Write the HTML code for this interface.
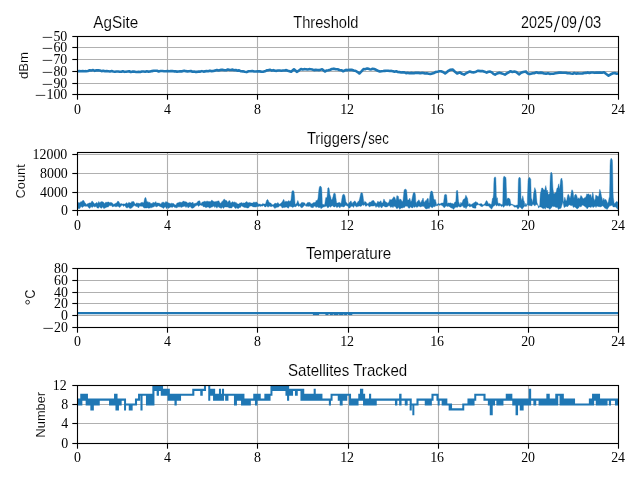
<!DOCTYPE html>
<html><head><meta charset="utf-8"><title>AgSite</title>
<style>
html,body{margin:0;padding:0;background:#fff;}
body{width:640px;height:480px;overflow:hidden;}
svg{display:block;will-change:transform;opacity:0.999;}
.t{font-family:"Liberation Sans",sans-serif;font-size:16.2px;fill:#000;stroke:#fff;stroke-width:0.12px;paint-order:fill stroke;}
.l{font-family:"Liberation Sans",sans-serif;font-size:13.6px;fill:#000;stroke:#fff;stroke-width:0.1px;paint-order:fill stroke;}
.k{font-family:"Liberation Serif",serif;font-size:14.4px;fill:#000;}
.g{stroke:#b0b0b0;stroke-width:1.11;}
.s{stroke:#000;stroke-width:1.11;fill:none;}
.d{stroke:#1f77b4;stroke-width:2.08;fill:none;stroke-linejoin:round;stroke-linecap:butt;}
</style></head><body>
<svg width="640" height="480" viewBox="0 0 640 480">
<rect width="640" height="480" fill="#fff"/>
<line class="g" x1="167.5" y1="36.5" x2="167.5" y2="94.5"/>
<line class="g" x1="257.5" y1="36.5" x2="257.5" y2="94.5"/>
<line class="g" x1="348.5" y1="36.5" x2="348.5" y2="94.5"/>
<line class="g" x1="438.5" y1="36.5" x2="438.5" y2="94.5"/>
<line class="g" x1="528.5" y1="36.5" x2="528.5" y2="94.5"/>
<line class="g" x1="77.5" y1="47.5" x2="618.5" y2="47.5"/>
<line class="g" x1="77.5" y1="59.5" x2="618.5" y2="59.5"/>
<line class="g" x1="77.5" y1="71.5" x2="618.5" y2="71.5"/>
<line class="g" x1="77.5" y1="83.5" x2="618.5" y2="83.5"/>
<clipPath id="c0"><rect x="77.5" y="36.5" width="541.0" height="58.0"/></clipPath>
<g clip-path="url(#c0)">
<polyline class="d" style="stroke-width:2.6" points="77.50,71.25 79.23,71.02 80.97,71.29 82.70,71.13 84.44,71.25 86.20,71.17 87.95,71.01 89.71,70.33 91.47,70.55 93.16,70.11 94.85,70.85 96.53,70.33 98.22,70.31 99.91,70.55 101.60,71.14 103.29,70.80 104.97,71.27 106.66,71.09 108.35,71.25 109.99,71.42 111.63,71.03 113.27,71.51 114.91,71.77 116.55,71.51 118.19,71.53 119.76,71.77 121.32,71.72 122.88,71.19 124.45,71.83 126.01,71.69 127.57,71.45 129.13,71.22 130.70,71.99 132.26,71.67 133.87,71.63 135.47,71.83 137.08,71.95 138.69,71.79 140.30,71.95 141.90,71.46 143.51,71.53 145.20,71.72 146.89,71.31 148.57,71.67 150.26,71.54 151.95,71.11 153.64,70.72 155.32,70.73 157.01,70.77 158.70,71.42 160.39,70.97 162.26,71.01 164.14,71.27 166.01,71.25 166.00,71.25 167.56,71.07 169.13,71.26 170.69,71.15 172.25,71.12 173.81,71.33 175.38,71.33 176.94,71.62 178.50,71.42 180.06,71.25 182.17,71.36 184.28,70.69 185.92,71.15 187.57,71.41 189.21,71.27 190.85,70.95 192.49,71.72 194.13,71.53 195.69,71.92 197.25,71.83 198.82,71.50 200.38,71.60 201.94,71.12 203.51,71.64 205.07,71.38 206.63,71.09 208.19,71.25 209.95,70.65 211.71,71.15 213.47,71.06 215.23,70.41 216.79,69.98 218.35,70.55 219.91,70.14 221.48,69.84 223.04,69.91 224.60,70.27 226.17,70.31 227.73,69.50 229.29,69.85 230.93,70.04 232.57,69.62 234.21,70.32 235.85,70.07 237.50,70.66 239.14,70.41 241.01,71.31 242.89,71.35 244.76,71.81 246.64,72.08 248.51,71.27 250.39,71.25 252.26,70.96 254.14,71.53 256.01,71.53 256.00,71.53 257.76,71.18 259.52,71.40 261.27,71.66 263.03,71.81 264.91,71.35 266.78,70.38 268.66,70.13 270.24,69.79 271.82,70.60 273.41,70.17 274.99,70.82 276.57,70.84 278.15,70.44 279.73,70.58 281.32,70.69 282.96,70.52 284.60,70.44 286.24,70.13 287.88,70.78 289.52,71.31 291.16,71.81 293.97,69.28 296.79,71.81 298.90,70.52 301.01,69.00 302.61,69.48 304.22,69.17 305.83,69.18 307.44,69.52 309.04,69.17 310.65,69.30 312.26,69.56 314.02,70.13 315.77,69.86 317.53,70.03 319.29,70.13 322.10,69.28 324.92,71.53 326.68,70.46 328.43,70.19 330.19,69.71 331.95,69.00 333.82,68.66 335.70,69.29 337.58,69.28 339.45,70.06 341.33,70.20 343.20,71.25 346.01,69.85 346.00,70.13 347.88,70.15 349.75,69.91 351.63,69.85 353.74,70.57 355.85,70.97 357.60,72.10 359.36,73.50 361.47,71.44 363.58,69.00 365.09,69.22 366.59,68.57 368.10,68.61 369.61,69.16 371.12,69.42 372.62,68.78 374.13,69.00 376.00,69.81 377.88,70.77 379.76,71.53 381.44,71.20 383.13,71.07 384.82,70.86 386.51,70.74 388.19,70.69 389.80,70.98 391.41,70.91 393.02,71.18 394.62,71.74 396.23,71.27 397.84,71.96 399.45,72.10 401.09,72.49 402.73,72.30 404.37,72.41 406.01,73.12 407.65,72.80 409.29,73.22 410.85,72.91 412.42,73.10 413.98,73.31 415.54,72.74 417.10,72.90 418.67,72.88 420.23,73.30 421.79,72.92 423.36,72.94 425.11,73.54 426.87,73.20 428.63,73.64 430.39,74.06 432.26,73.45 434.14,72.91 436.01,71.81 436.00,72.10 437.64,71.77 439.28,71.29 440.92,71.25 443.03,72.04 445.14,73.50 446.78,72.31 448.42,70.79 450.06,69.85 452.88,69.56 454.99,71.81 457.10,73.50 459.91,72.38 462.02,73.81 464.13,74.63 466.00,73.31 467.88,72.37 469.76,71.53 471.86,72.23 473.97,72.38 476.08,71.66 478.19,70.69 480.30,71.11 482.41,70.97 484.52,71.68 486.63,72.66 488.39,71.76 490.15,71.53 491.79,72.38 493.43,73.86 495.07,74.63 497.18,73.44 499.29,72.66 501.17,73.18 503.04,73.90 504.92,74.63 506.79,73.43 508.67,72.30 510.54,71.25 512.42,71.91 514.29,71.50 516.17,72.10 518.98,74.35 521.09,72.78 523.20,72.10 526.01,71.53 526.00,72.00 527.87,73.45 529.75,74.10 532.75,73.20 534.62,73.09 536.50,72.30 538.50,72.94 540.50,72.64 542.50,72.90 544.30,73.48 546.10,73.64 547.90,73.19 549.70,73.84 551.50,73.80 553.37,73.80 555.25,73.35 557.12,72.92 559.00,72.60 560.71,72.54 562.43,72.71 564.14,72.74 565.86,72.72 567.57,73.32 569.28,73.18 571.00,73.50 572.66,73.71 574.33,72.96 576.00,73.66 577.66,73.41 579.33,73.55 581.00,73.46 582.66,73.39 584.33,73.04 586.00,72.90 587.71,72.42 589.43,73.03 591.14,72.48 592.85,72.55 594.57,72.83 596.28,72.66 598.00,72.60 600.00,72.42 602.00,72.79 604.00,72.30 606.25,74.05 608.50,75.60 610.75,74.26 613.00,73.20 614.80,73.08 616.60,73.72 618.40,73.50"/>
</g>
<line class="s" x1="77.5" y1="94.5" x2="77.5" y2="99.7"/>
<text class="k" x="74.03" y="113.90" textLength="6.95" lengthAdjust="spacingAndGlyphs">0</text>
<line class="s" x1="167.5" y1="94.5" x2="167.5" y2="99.7"/>
<text class="k" x="164.03" y="113.90" textLength="6.95" lengthAdjust="spacingAndGlyphs">4</text>
<line class="s" x1="257.5" y1="94.5" x2="257.5" y2="99.7"/>
<text class="k" x="254.03" y="113.90" textLength="6.95" lengthAdjust="spacingAndGlyphs">8</text>
<line class="s" x1="348.5" y1="94.5" x2="348.5" y2="99.7"/>
<text class="k" x="340.15" y="113.90" textLength="13.90" lengthAdjust="spacingAndGlyphs">12</text>
<line class="s" x1="438.5" y1="94.5" x2="438.5" y2="99.7"/>
<text class="k" x="430.15" y="113.90" textLength="13.90" lengthAdjust="spacingAndGlyphs">16</text>
<line class="s" x1="528.5" y1="94.5" x2="528.5" y2="99.7"/>
<text class="k" x="521.15" y="113.90" textLength="13.90" lengthAdjust="spacingAndGlyphs">20</text>
<line class="s" x1="618.5" y1="94.5" x2="618.5" y2="99.7"/>
<text class="k" x="611.15" y="113.90" textLength="13.90" lengthAdjust="spacingAndGlyphs">24</text>
<line class="s" x1="72.3" y1="36.5" x2="77.5" y2="36.5"/>
<text class="k" x="53.40" y="41.10" textLength="13.90" lengthAdjust="spacingAndGlyphs">50</text>
<line x1="42.70" y1="37.40" x2="52.20" y2="37.40" stroke="#000" stroke-width="0.75"/>
<line class="s" x1="72.3" y1="47.5" x2="77.5" y2="47.5"/>
<text class="k" x="53.40" y="52.10" textLength="13.90" lengthAdjust="spacingAndGlyphs">60</text>
<line x1="42.70" y1="48.40" x2="52.20" y2="48.40" stroke="#000" stroke-width="0.75"/>
<line class="s" x1="72.3" y1="59.5" x2="77.5" y2="59.5"/>
<text class="k" x="53.40" y="64.10" textLength="13.90" lengthAdjust="spacingAndGlyphs">70</text>
<line x1="42.70" y1="60.40" x2="52.20" y2="60.40" stroke="#000" stroke-width="0.75"/>
<line class="s" x1="72.3" y1="71.5" x2="77.5" y2="71.5"/>
<text class="k" x="53.40" y="76.10" textLength="13.90" lengthAdjust="spacingAndGlyphs">80</text>
<line x1="42.70" y1="72.40" x2="52.20" y2="72.40" stroke="#000" stroke-width="0.75"/>
<line class="s" x1="72.3" y1="83.5" x2="77.5" y2="83.5"/>
<text class="k" x="53.40" y="88.10" textLength="13.90" lengthAdjust="spacingAndGlyphs">90</text>
<line x1="42.70" y1="84.40" x2="52.20" y2="84.40" stroke="#000" stroke-width="0.75"/>
<line class="s" x1="72.3" y1="94.5" x2="77.5" y2="94.5"/>
<text class="k" x="46.45" y="99.10" textLength="20.85" lengthAdjust="spacingAndGlyphs">100</text>
<line x1="35.75" y1="95.40" x2="45.25" y2="95.40" stroke="#000" stroke-width="0.75"/>
<rect class="s" x="77.5" y="36.5" width="541.0" height="58.0"/>
<line class="g" x1="167.5" y1="152.5" x2="167.5" y2="210.5"/>
<line class="g" x1="257.5" y1="152.5" x2="257.5" y2="210.5"/>
<line class="g" x1="348.5" y1="152.5" x2="348.5" y2="210.5"/>
<line class="g" x1="438.5" y1="152.5" x2="438.5" y2="210.5"/>
<line class="g" x1="528.5" y1="152.5" x2="528.5" y2="210.5"/>
<line class="g" x1="77.5" y1="154.5" x2="618.5" y2="154.5"/>
<line class="g" x1="77.5" y1="173.5" x2="618.5" y2="173.5"/>
<line class="g" x1="77.5" y1="192.5" x2="618.5" y2="192.5"/>
<clipPath id="c1"><rect x="77.5" y="152.5" width="541.0" height="58.0"/></clipPath>
<g clip-path="url(#c1)">
<polygon points="77.8,203.9 78.0,203.4 78.3,202.9 78.5,202.4 78.8,202.3 79.0,202.5 79.3,202.7 79.5,202.9 79.8,203.1 80.0,202.7 80.3,202.3 80.5,202.0 80.8,201.6 81.0,201.7 81.3,201.7 81.5,201.7 81.8,201.7 82.0,201.4 82.3,201.0 82.5,200.7 82.8,200.4 83.0,200.3 83.3,200.4 83.5,200.5 83.8,200.6 84.0,201.1 84.3,201.5 84.5,202.0 84.8,202.6 85.0,202.8 85.3,203.1 85.5,203.3 85.8,203.6 86.0,204.1 86.3,204.3 86.5,204.4 86.8,204.5 87.0,204.3 87.3,204.1 87.5,203.8 87.8,203.6 88.0,203.5 88.3,203.5 88.5,203.4 88.8,203.1 89.0,203.1 89.3,203.0 89.5,202.9 89.8,202.8 90.0,202.9 90.3,202.9 90.5,203.0 90.8,203.1 91.0,202.6 91.3,202.2 91.5,201.7 91.8,201.2 92.0,201.2 92.3,201.2 92.5,201.3 92.8,201.5 93.0,201.9 93.3,202.2 93.5,202.5 93.8,202.9 94.0,203.2 94.3,203.5 94.5,203.7 94.8,204.0 95.0,203.8 95.3,203.5 95.5,203.3 95.8,203.0 96.0,202.9 96.3,202.7 96.5,202.5 96.8,202.4 97.0,202.6 97.3,202.9 97.5,203.2 97.8,203.5 98.0,203.0 98.3,202.4 98.5,201.9 98.8,201.4 99.0,201.8 99.3,202.2 99.5,202.7 99.8,203.1 100.0,202.8 100.3,202.4 100.5,202.1 100.8,201.8 101.0,201.7 101.3,201.7 101.5,201.7 101.8,201.6 102.0,201.7 102.3,201.7 102.5,201.8 102.8,201.8 103.0,202.0 103.3,202.2 103.5,202.3 103.8,202.5 104.0,202.8 104.3,203.1 104.5,203.5 104.8,203.8 105.0,203.3 105.3,202.9 105.5,202.4 105.8,202.0 106.0,202.1 106.3,202.2 106.5,202.3 106.8,202.4 107.0,202.3 107.3,202.2 107.5,202.2 107.8,202.1 108.0,202.0 108.3,202.0 108.5,202.0 108.8,202.0 109.0,202.2 109.3,202.4 109.5,202.6 109.8,202.8 110.0,202.7 110.3,202.6 110.5,202.5 110.8,202.3 111.0,202.4 111.3,202.5 111.5,202.6 111.8,202.7 112.0,202.9 112.3,203.0 112.5,203.2 112.8,203.4 113.0,203.7 113.3,204.0 113.5,204.3 113.8,204.5 114.0,204.3 114.3,204.1 114.5,203.9 114.8,203.8 115.0,203.6 115.3,203.5 115.5,203.4 115.8,203.3 116.0,203.3 116.3,203.1 116.5,202.9 116.8,202.7 117.0,202.3 117.3,201.9 117.5,201.5 117.8,201.1 118.0,201.1 118.3,201.3 118.5,201.5 118.8,201.6 119.0,202.1 119.3,202.6 119.5,203.1 119.8,203.6 120.0,203.6 120.3,203.7 120.5,203.8 120.8,203.9 121.0,203.8 121.3,203.7 121.5,203.6 121.8,203.5 122.0,203.8 122.3,204.0 122.5,204.1 122.8,204.2 123.0,204.1 123.3,204.0 123.5,203.9 123.8,203.8 124.0,203.8 124.3,203.9 124.5,204.0 124.8,204.1 125.0,203.9 125.3,203.8 125.5,203.6 125.8,203.5 126.0,203.2 126.3,203.0 126.5,202.8 126.8,202.6 127.0,202.9 127.3,203.2 127.5,203.6 127.8,203.9 128.1,203.5 128.3,203.1 128.6,202.7 128.8,202.2 129.1,202.4 129.3,202.5 129.6,202.7 129.8,202.8 130.1,202.9 130.3,202.9 130.6,203.0 130.8,203.0 131.1,202.7 131.3,202.3 131.6,201.9 131.8,201.5 132.1,201.6 132.3,201.6 132.6,201.7 132.8,201.8 133.1,201.7 133.3,201.6 133.6,201.6 133.8,201.5 134.1,202.0 134.3,202.6 134.6,203.1 134.8,203.6 135.1,203.8 135.3,204.0 135.6,204.0 135.8,203.9 136.1,203.6 136.3,203.3 136.6,203.1 136.8,202.8 137.1,202.8 137.3,202.9 137.6,203.2 137.8,203.5 138.1,203.4 138.3,203.3 138.6,203.2 138.8,203.1 139.1,203.4 139.3,203.5 139.6,203.6 139.8,203.6 140.1,203.4 140.3,203.2 140.6,203.0 140.8,202.8 141.1,202.6 141.3,202.6 141.6,202.6 141.8,202.6 142.1,202.6 142.3,202.5 142.6,202.4 142.8,202.4 143.1,202.6 143.3,202.8 143.6,202.9 143.8,202.3 144.1,201.2 144.3,200.1 144.6,198.9 144.8,198.2 145.1,197.8 145.3,197.4 145.6,197.5 145.8,197.8 146.1,198.4 146.3,199.3 146.6,200.4 146.8,201.5 147.1,202.0 147.3,202.3 147.6,201.8 147.8,201.4 148.1,201.7 148.3,202.0 148.6,202.3 148.8,202.7 149.1,202.5 149.3,202.4 149.6,202.3 149.8,202.2 150.1,202.5 150.3,202.9 150.6,203.2 150.8,203.5 151.1,203.5 151.3,203.5 151.6,203.5 151.8,203.6 152.1,203.4 152.3,203.2 152.6,202.9 152.8,202.5 153.1,202.5 153.3,202.5 153.6,202.5 153.8,202.5 154.1,202.6 154.3,202.7 154.6,202.8 154.8,202.9 155.1,202.5 155.3,202.2 155.6,201.8 155.8,201.5 156.1,202.3 156.3,202.6 156.6,202.9 156.8,203.2 157.1,203.1 157.3,203.1 157.6,203.0 157.8,202.9 158.1,203.0 158.3,203.1 158.6,203.1 158.8,203.2 159.1,203.2 159.3,203.3 159.6,203.3 159.8,203.4 160.1,203.6 160.3,203.8 160.6,204.0 160.8,204.2 161.1,203.8 161.3,203.4 161.6,202.9 161.8,202.5 162.1,202.4 162.3,202.4 162.6,202.3 162.8,202.2 163.1,202.2 163.3,202.2 163.6,202.2 163.8,202.2 164.1,202.5 164.3,202.7 164.6,203.0 164.8,203.2 165.1,202.8 165.3,202.3 165.6,201.9 165.8,201.5 166.1,201.6 166.3,201.8 166.6,202.0 166.8,202.2 167.1,202.3 167.3,202.3 167.6,202.3 167.8,202.4 168.1,202.6 168.3,202.7 168.6,202.9 168.8,203.2 169.1,203.2 169.3,203.3 169.6,203.3 169.8,203.3 170.1,203.4 170.3,203.5 170.6,203.6 170.8,203.7 171.1,203.5 171.3,203.4 171.6,203.2 171.8,203.0 172.1,203.2 172.3,203.3 172.6,203.4 172.8,203.5 173.1,203.5 173.3,203.6 173.6,203.6 173.8,203.6 174.1,203.9 174.3,204.2 174.6,204.5 174.8,204.8 175.1,204.8 175.3,204.9 175.6,205.0 175.8,205.1 176.1,204.7 176.3,204.2 176.6,203.7 176.8,203.2 177.1,203.1 177.3,203.0 177.6,202.9 177.8,202.8 178.1,202.8 178.3,202.7 178.6,202.6 178.8,202.5 179.1,202.4 179.3,202.3 179.6,202.2 179.8,202.1 180.1,202.2 180.3,202.2 180.6,202.3 180.8,202.3 181.1,202.3 181.3,202.3 181.6,202.4 181.8,202.4 182.1,202.2 182.3,202.0 182.6,201.8 182.8,201.6 183.1,201.5 183.3,201.3 183.6,201.1 183.8,200.9 184.1,201.2 184.3,201.4 184.6,201.6 184.8,201.9 185.1,201.8 185.3,201.8 185.6,201.7 185.8,201.7 186.1,201.8 186.3,201.9 186.6,202.1 186.8,202.2 187.1,202.5 187.3,202.7 187.6,203.0 187.8,203.2 188.1,203.1 188.3,202.9 188.6,202.8 188.8,202.7 189.1,202.6 189.3,202.5 189.6,202.4 189.8,202.3 190.1,202.4 190.3,202.5 190.6,202.6 190.8,202.7 191.1,202.8 191.3,202.9 191.6,203.0 191.8,203.1 192.1,202.8 192.3,202.5 192.6,202.2 192.8,202.0 193.1,202.5 193.3,203.0 193.6,203.5 193.8,203.9 194.1,203.7 194.3,203.6 194.6,203.5 194.8,203.4 195.1,203.3 195.3,203.3 195.6,203.3 195.8,203.3 196.1,203.2 196.3,203.0 196.6,202.9 196.8,202.7 197.1,202.4 197.3,202.0 197.6,201.7 197.8,201.4 198.1,201.3 198.3,201.1 198.6,201.0 198.8,200.9 199.1,200.6 199.3,200.7 199.6,200.9 199.8,201.1 200.1,201.8 200.3,202.5 200.6,203.2 200.8,203.8 201.1,203.8 201.3,203.3 201.6,202.9 201.8,202.4 202.1,202.3 202.3,202.2 202.6,202.0 202.8,201.9 203.1,201.9 203.3,201.8 203.6,201.8 203.8,201.7 204.1,201.6 204.3,201.4 204.6,201.3 204.8,201.1 205.1,201.3 205.3,201.4 205.6,201.5 205.8,201.7 206.1,201.5 206.3,201.4 206.6,201.3 206.8,201.2 207.1,201.2 207.3,201.2 207.6,201.2 207.8,201.2 208.1,201.3 208.3,201.4 208.6,201.5 208.8,201.6 209.1,201.6 209.3,201.6 209.6,201.6 209.8,201.6 210.1,201.6 210.3,201.5 210.6,201.5 210.8,201.5 211.1,201.1 211.3,200.7 211.6,200.3 211.8,199.9 212.1,200.3 212.3,200.6 212.6,200.8 212.8,201.0 213.1,201.0 213.3,201.2 213.6,201.4 213.8,201.6 214.1,201.7 214.3,201.7 214.6,201.8 214.8,201.8 215.1,201.7 215.3,201.7 215.6,201.6 215.8,201.5 216.1,201.5 216.3,201.4 216.6,201.4 216.8,201.3 217.1,201.2 217.3,201.1 217.6,201.2 217.8,201.2 218.1,201.1 218.3,201.0 218.6,200.9 218.8,200.7 219.1,201.3 219.3,201.8 219.6,202.3 219.8,202.8 220.1,203.0 220.3,203.1 220.6,203.3 220.8,203.4 221.1,203.1 221.3,202.6 221.6,202.1 221.8,201.6 222.1,201.4 222.3,201.3 222.6,201.2 222.8,201.1 223.1,200.6 223.3,200.2 223.6,199.8 223.8,199.3 224.1,199.2 224.3,199.2 224.6,199.4 224.8,199.5 225.1,199.7 225.3,200.0 225.6,200.3 225.8,200.6 226.1,200.6 226.3,200.6 226.6,200.7 226.8,200.7 227.1,201.2 227.3,201.7 227.6,202.1 227.8,202.5 228.1,202.1 228.3,201.7 228.6,201.3 228.8,200.8 229.1,200.8 229.3,200.7 229.6,200.7 229.8,200.6 230.1,201.3 230.3,201.9 230.6,202.5 230.8,203.1 231.1,202.9 231.3,202.7 231.6,202.4 231.8,202.2 232.1,202.1 232.3,201.9 232.6,201.7 232.8,201.6 233.1,201.8 233.3,202.1 233.6,202.4 233.8,202.6 234.1,202.4 234.3,202.2 234.6,202.0 234.8,201.8 235.1,202.1 235.3,202.4 235.6,202.7 235.8,203.0 236.1,202.4 236.3,202.8 236.6,203.1 236.8,203.5 237.1,203.6 237.3,203.7 237.6,203.8 237.8,203.9 238.1,203.9 238.3,204.0 238.6,204.0 238.8,203.9 239.1,203.7 239.3,203.4 239.6,203.2 239.8,202.9 240.1,202.9 240.3,202.9 240.6,203.0 240.8,203.0 241.1,202.8 241.3,202.7 241.6,202.6 241.8,202.4 242.1,202.7 242.3,202.9 242.6,203.1 242.8,203.4 243.1,203.2 243.3,203.1 243.6,202.9 243.8,202.8 244.1,202.9 244.3,203.0 244.6,203.1 244.8,203.1 245.1,202.9 245.3,202.6 245.6,202.3 245.8,202.0 246.1,201.9 246.3,201.8 246.6,201.7 246.8,201.5 247.1,201.8 247.3,202.1 247.6,202.4 247.8,202.7 248.1,202.7 248.3,202.7 248.6,202.8 248.8,202.8 249.1,202.6 249.3,202.6 249.6,202.6 249.8,202.6 250.1,202.7 250.3,202.7 250.6,202.8 250.8,202.8 251.1,202.9 251.3,202.9 251.6,203.0 251.8,203.1 252.1,203.1 252.3,203.1 252.6,203.0 252.8,203.0 253.1,202.7 253.3,202.4 253.6,202.2 253.8,201.9 254.1,202.0 254.3,202.2 254.6,202.4 254.8,202.5 255.1,202.4 255.3,202.3 255.6,202.3 255.8,202.2 256.1,202.0 256.3,202.1 256.6,202.2 256.8,202.3 257.1,202.5 257.3,202.8 257.6,203.0 257.8,203.3 258.1,203.6 258.3,204.0 258.6,204.3 258.8,204.3 259.1,204.2 259.3,204.1 259.6,204.1 259.8,204.0 260.1,204.1 260.3,204.2 260.6,204.3 260.8,204.4 261.1,204.5 261.3,204.5 261.6,204.6 261.8,204.6 262.1,204.3 262.3,204.0 262.6,203.7 262.8,203.4 263.1,203.6 263.3,203.8 263.6,203.9 263.8,204.1 264.1,204.1 264.3,204.1 264.6,204.0 264.8,204.0 265.1,204.0 265.3,203.9 265.6,203.5 265.8,202.9 266.1,202.1 266.3,201.2 266.6,200.5 266.8,200.0 267.1,199.7 267.3,199.5 267.6,199.6 267.8,199.8 268.1,200.1 268.3,200.6 268.6,201.2 268.8,201.7 269.1,202.3 269.3,202.5 269.6,202.6 269.8,202.7 270.1,202.8 270.3,202.9 270.6,203.0 270.8,203.1 271.1,203.4 271.3,203.7 271.6,204.0 271.8,204.3 272.1,204.5 272.3,204.7 272.6,204.8 272.8,204.8 273.1,204.7 273.3,204.6 273.6,204.5 273.8,204.4 274.1,204.1 274.3,203.8 274.6,203.6 274.8,203.3 275.1,203.3 275.3,203.3 275.6,203.3 275.8,203.3 276.1,203.3 276.3,203.5 276.6,203.6 276.8,203.7 277.1,203.4 277.3,203.1 277.6,202.8 277.8,202.5 278.1,202.8 278.3,203.1 278.6,203.4 278.8,203.7 279.1,203.9 279.3,204.1 279.6,204.2 279.8,204.3 280.1,204.0 280.3,203.7 280.6,203.5 280.8,203.2 281.1,203.0 281.3,202.8 281.6,202.6 281.8,202.4 282.1,202.0 282.3,201.6 282.6,201.2 282.8,200.8 283.1,200.3 283.3,199.8 283.6,199.4 283.8,199.4 284.1,200.1 284.3,200.8 284.6,201.5 284.8,202.2 285.1,202.0 285.3,201.9 285.6,201.4 285.8,200.9 286.1,201.1 286.3,201.3 286.6,201.5 286.8,201.7 287.1,201.6 287.3,201.6 287.6,201.6 287.8,201.5 288.1,201.2 288.3,201.0 288.6,200.7 288.8,200.5 289.1,200.8 289.3,201.1 289.6,201.4 289.8,201.5 290.1,201.2 290.3,201.0 290.6,200.7 290.8,200.5 291.1,198.9 291.3,196.6 291.6,194.3 291.8,191.9 292.1,191.3 292.3,191.0 292.6,190.7 292.8,190.4 293.1,190.5 293.3,190.7 293.6,190.9 293.8,191.2 294.1,192.3 294.3,193.9 294.6,196.8 294.8,200.3 295.1,203.6 295.3,203.9 295.6,204.1 295.8,204.4 296.1,204.1 296.3,203.7 296.6,203.3 296.8,202.9 297.1,202.3 297.3,201.7 297.6,201.1 297.8,200.5 298.1,201.0 298.3,201.7 298.6,202.4 298.8,203.1 299.1,203.5 299.3,203.9 299.6,204.3 299.8,204.6 300.1,204.3 300.3,204.0 300.6,203.7 300.8,203.4 301.1,203.1 301.3,202.9 301.6,202.6 301.8,202.3 302.1,202.3 302.3,202.3 302.6,202.5 302.8,202.8 303.1,202.7 303.3,202.7 303.6,202.6 303.8,202.6 304.1,202.7 304.3,202.8 304.6,202.9 304.8,203.0 305.1,203.6 305.3,204.2 305.6,204.6 305.8,204.9 306.1,204.5 306.3,204.1 306.6,203.7 306.8,203.4 307.1,203.1 307.3,202.9 307.6,202.6 307.8,202.3 308.1,202.3 308.3,202.3 308.6,202.4 308.8,202.7 309.1,202.6 309.3,202.5 309.6,202.4 309.8,202.2 310.1,202.6 310.3,202.9 310.6,203.2 310.8,203.6 311.1,203.7 311.3,203.8 311.6,203.9 311.8,204.0 312.1,203.9 312.3,203.6 312.6,203.3 312.8,202.9 313.1,202.8 313.3,202.8 313.6,202.7 313.8,202.6 314.1,202.6 314.3,202.5 314.6,202.4 314.8,202.4 315.1,202.3 315.3,202.2 315.6,202.1 315.8,202.0 316.1,200.2 316.3,200.5 316.6,200.7 316.8,200.9 317.1,200.4 317.3,200.0 317.6,199.6 317.8,199.2 318.1,197.5 318.3,195.1 318.6,192.8 318.8,190.5 319.1,188.5 319.3,187.5 319.6,186.7 319.8,186.4 320.1,186.3 320.3,186.1 320.6,186.3 320.8,186.6 321.1,186.8 321.3,187.1 321.6,188.0 321.8,190.1 322.1,197.5 322.3,203.6 322.6,204.1 322.8,204.5 323.1,204.5 323.3,204.6 323.6,204.6 323.8,204.6 324.1,205.0 324.3,204.7 324.6,204.3 324.8,203.8 325.1,202.0 325.3,200.2 325.6,198.8 325.8,197.5 326.1,197.6 326.3,197.7 326.6,197.7 326.8,197.8 327.1,196.2 327.3,194.3 327.6,191.0 327.8,188.1 328.1,187.9 328.3,187.7 328.6,187.6 328.8,187.8 329.1,188.6 329.3,189.8 329.6,192.0 329.8,194.3 330.1,195.0 330.3,195.7 330.6,196.4 330.8,197.1 331.1,198.9 331.3,199.3 331.6,199.7 331.8,200.1 332.1,199.4 332.3,198.7 332.6,197.9 332.8,197.2 333.1,196.3 333.3,195.1 333.6,194.0 333.8,193.4 334.1,193.3 334.3,193.2 334.6,193.2 334.8,193.5 335.1,193.6 335.3,193.8 335.6,195.3 335.8,197.3 336.1,199.0 336.3,200.7 336.6,202.4 336.8,202.9 337.1,202.9 337.3,203.0 337.6,203.0 337.8,203.1 338.1,202.9 338.3,202.7 338.6,202.6 338.8,202.6 339.1,202.6 339.3,202.6 339.6,202.6 339.8,202.6 340.1,202.8 340.3,203.1 340.6,203.3 340.8,203.5 341.1,203.4 341.3,202.0 341.6,200.6 341.8,199.1 342.1,197.5 342.3,196.0 342.6,195.2 342.8,194.8 343.1,194.6 343.3,194.4 343.6,194.3 343.8,194.3 344.1,194.5 344.3,194.6 344.6,194.9 344.8,195.7 345.1,196.6 345.3,198.2 345.6,199.7 345.8,201.3 346.1,202.6 346.3,202.6 346.6,202.7 346.8,202.8 347.1,203.2 347.3,203.6 347.6,203.9 347.8,204.3 348.1,204.2 348.3,204.1 348.6,203.9 348.8,203.3 349.1,203.0 349.3,202.6 349.6,202.3 349.8,202.0 350.1,201.7 350.3,201.5 350.6,201.2 350.8,200.9 351.1,200.9 351.3,201.6 351.6,202.3 351.8,203.0 352.1,203.4 352.3,203.5 352.6,203.0 352.8,202.4 353.1,202.3 353.3,202.2 353.6,202.1 353.8,201.9 354.1,201.6 354.3,201.3 354.6,201.0 354.8,200.8 355.1,201.1 355.3,201.5 355.6,201.8 355.8,202.1 356.1,202.6 356.3,203.1 356.6,203.5 356.8,203.5 357.1,203.1 357.3,202.7 357.6,202.3 357.8,201.8 358.1,201.6 358.3,201.4 358.6,201.1 358.8,200.9 359.1,200.6 359.3,199.7 359.6,198.7 359.8,197.7 360.1,196.5 360.3,195.3 360.6,194.2 360.8,193.3 361.1,193.1 361.3,192.9 361.6,192.7 361.8,192.7 362.1,192.9 362.3,193.1 362.6,193.5 362.8,194.8 363.1,196.6 363.3,198.5 363.6,200.3 363.8,202.2 364.1,202.8 364.3,202.5 364.6,201.9 364.8,201.3 365.1,201.5 365.3,201.7 365.6,201.9 365.8,202.1 366.1,202.3 366.3,202.6 366.6,203.0 366.8,203.4 367.1,203.5 367.3,203.6 367.6,203.8 367.8,203.9 368.1,203.7 368.3,203.5 368.6,203.2 368.8,202.7 369.1,202.5 369.3,202.4 369.6,202.2 369.8,202.1 370.1,202.1 370.3,202.1 370.6,202.2 370.8,202.2 371.1,201.9 371.3,201.5 371.6,201.2 371.8,200.8 372.1,200.8 372.3,200.7 372.6,200.7 372.8,200.6 373.1,200.6 373.3,200.6 373.6,200.6 373.8,200.6 374.1,201.1 374.3,201.5 374.6,202.0 374.8,202.5 375.1,202.7 375.3,202.8 375.6,203.0 375.8,203.2 376.1,203.3 376.3,203.4 376.6,203.4 376.8,203.4 377.1,202.8 377.3,202.2 377.6,201.7 377.8,201.1 378.1,201.4 378.3,201.6 378.6,201.9 378.8,202.2 379.1,202.1 379.3,202.0 379.6,201.9 379.8,201.8 380.1,201.5 380.3,201.2 380.6,201.0 380.8,200.7 381.1,201.2 381.3,201.8 381.6,202.4 381.8,202.9 382.1,203.0 382.3,203.1 382.6,202.8 382.8,202.5 383.1,201.7 383.3,200.8 383.6,200.0 383.8,199.1 384.1,199.3 384.3,199.5 384.6,199.9 384.8,201.0 385.1,201.3 385.3,201.5 385.6,201.7 385.8,201.9 386.1,202.5 386.3,202.4 386.6,202.3 386.8,202.2 387.1,202.5 387.3,202.8 387.6,203.1 387.8,203.4 388.1,203.0 388.3,202.7 388.6,202.4 388.8,202.1 389.1,201.4 389.3,200.7 389.6,200.0 389.8,199.3 390.1,199.4 390.3,199.6 390.6,199.7 390.8,199.9 391.1,199.8 391.3,199.8 391.6,199.7 391.8,199.6 392.1,199.3 392.3,198.9 392.6,198.6 392.8,198.2 393.1,197.9 393.3,197.5 393.6,197.1 393.8,196.8 394.1,196.7 394.3,196.9 394.6,197.2 394.8,197.5 395.1,198.2 395.3,198.8 395.6,199.4 395.8,200.0 396.1,200.5 396.3,198.9 396.6,197.4 396.8,195.8 397.1,195.7 397.3,195.6 397.6,196.1 397.8,196.5 398.1,196.2 398.3,196.3 398.6,197.7 398.8,199.2 399.1,200.3 399.3,200.2 399.6,199.6 399.8,198.9 400.1,199.1 400.3,199.2 400.6,199.3 400.8,199.5 401.1,199.6 401.3,200.1 401.6,200.7 401.8,201.2 402.1,201.2 402.3,201.3 402.6,201.4 402.8,201.5 403.1,199.7 403.3,197.3 403.6,194.9 403.8,192.4 404.1,190.5 404.3,189.7 404.6,189.5 404.8,189.4 405.1,189.3 405.3,189.2 405.6,189.2 405.8,189.3 406.1,189.4 406.3,189.7 406.6,190.1 406.8,192.3 407.1,195.3 407.3,198.2 407.6,200.5 407.8,200.1 408.1,200.1 408.3,200.0 408.6,199.9 408.8,199.8 409.1,199.4 409.3,198.9 409.6,198.5 409.8,198.1 410.1,199.0 410.3,199.9 410.6,200.8 410.8,201.8 411.1,201.5 411.3,201.1 411.6,200.8 411.8,199.6 412.1,198.4 412.3,197.3 412.6,196.1 412.8,194.9 413.1,193.9 413.3,193.0 413.6,192.8 413.8,192.5 414.1,192.3 414.3,192.4 414.6,192.7 414.8,192.9 415.1,193.6 415.3,194.3 415.6,197.4 415.8,201.4 416.1,203.7 416.3,203.1 416.6,202.5 416.8,201.9 417.1,201.7 417.3,201.5 417.6,201.3 417.8,201.1 418.1,201.0 418.3,200.6 418.6,200.2 418.8,199.8 419.1,199.9 419.3,200.4 419.6,201.0 419.8,201.6 420.1,202.3 420.3,202.4 420.6,202.4 420.8,202.4 421.1,201.9 421.3,201.4 421.6,200.9 421.8,200.4 422.1,200.3 422.3,200.1 422.6,199.2 422.8,198.4 423.1,198.0 423.3,198.8 423.6,200.2 423.8,201.5 424.1,202.2 424.3,202.2 424.6,202.0 424.8,201.7 425.1,201.4 425.3,201.0 425.6,200.7 425.8,200.4 426.1,200.8 426.3,200.4 426.6,200.0 426.8,199.5 427.1,199.0 427.3,198.7 427.6,198.5 427.8,198.3 428.1,198.4 428.3,198.8 428.6,200.7 428.8,202.5 429.1,203.2 429.3,201.6 429.6,199.0 429.8,196.3 430.1,194.7 430.3,193.0 430.6,192.1 430.8,191.6 431.1,191.3 431.3,191.1 431.6,190.9 431.8,190.9 432.1,191.2 432.3,191.4 432.6,192.1 432.8,193.0 433.1,194.4 433.3,195.8 433.6,197.3 433.8,198.7 434.1,199.7 434.3,199.8 434.6,199.6 434.8,199.4 435.1,199.5 435.3,199.6 435.6,200.4 435.8,201.5 436.1,202.5 436.3,203.5 436.6,204.6 436.8,204.9 437.1,204.6 437.3,204.3 437.6,204.0 437.8,203.7 438.1,203.6 438.3,203.5 438.6,203.5 438.8,203.4 439.1,203.6 439.3,203.8 439.6,204.0 439.8,204.1 440.1,204.0 440.3,203.8 440.6,203.6 440.8,203.4 441.1,203.3 441.3,203.2 441.6,203.1 441.8,203.0 442.1,203.0 442.3,203.0 442.6,203.0 442.8,202.9 443.1,202.9 443.3,202.8 443.6,202.3 443.8,200.2 444.1,198.2 444.3,196.3 444.6,194.8 444.8,194.7 445.1,194.5 445.3,194.4 445.6,194.3 445.8,194.5 446.1,194.6 446.3,194.7 446.6,194.9 446.8,197.0 447.1,200.3 447.3,202.9 447.6,203.2 447.8,203.4 448.1,203.3 448.3,203.1 448.6,202.9 448.8,202.7 449.1,202.9 449.3,203.0 449.6,203.1 449.8,203.3 450.1,203.2 450.3,203.1 450.6,202.9 450.8,202.8 451.1,203.0 451.3,203.2 451.6,203.4 451.8,203.6 452.1,203.6 452.3,203.5 452.6,203.5 452.8,203.5 453.1,203.7 453.3,203.9 453.6,204.1 453.8,203.8 454.1,203.4 454.3,202.9 454.6,202.5 454.8,202.0 455.1,202.0 455.3,202.0 455.6,202.0 455.8,201.0 456.1,195.8 456.3,191.6 456.6,191.0 456.8,190.4 457.1,190.1 457.3,190.4 457.6,190.8 457.8,191.8 458.1,195.3 458.3,198.8 458.6,201.7 458.8,202.2 459.1,202.8 459.3,203.5 459.6,204.1 459.8,204.8 460.1,204.4 460.3,204.0 460.6,203.3 460.8,202.3 461.1,202.6 461.3,202.9 461.6,203.1 461.8,203.4 462.1,202.7 462.3,202.0 462.6,201.2 462.8,200.4 463.1,200.0 463.3,199.6 463.6,199.3 463.8,198.9 464.1,198.7 464.3,198.8 464.6,198.8 464.8,198.9 465.1,198.0 465.3,197.0 465.6,196.1 465.8,195.2 466.1,195.4 466.3,195.9 466.6,196.5 466.8,197.1 467.1,197.5 467.3,197.9 467.6,198.6 467.8,200.5 468.1,202.0 468.3,203.5 468.6,204.6 468.8,204.5 469.1,204.2 469.3,204.0 469.6,203.7 469.8,203.5 470.1,203.8 470.3,204.1 470.6,204.4 470.8,204.7 471.1,204.7 471.3,204.5 471.6,204.3 471.8,204.2 472.1,204.0 472.3,203.9 472.6,203.8 472.8,203.6 473.1,203.4 473.3,203.2 473.6,203.0 473.8,202.8 474.1,202.7 474.3,202.6 474.6,202.5 474.8,202.4 475.1,202.1 475.3,201.9 475.6,201.7 475.8,201.4 476.1,201.9 476.3,202.1 476.6,202.3 476.8,202.4 477.1,202.5 477.3,202.6 477.6,202.7 477.8,202.8 478.1,203.3 478.3,203.7 478.6,204.1 478.8,204.5 479.1,204.3 479.3,204.1 479.6,203.9 479.8,203.7 480.1,203.7 480.3,203.7 480.6,203.7 480.8,203.7 481.1,203.7 481.3,203.7 481.6,203.7 481.8,203.7 482.1,204.1 482.3,204.5 482.6,204.7 482.8,205.0 483.1,204.9 483.3,204.8 483.6,204.6 483.8,204.5 484.1,204.3 484.3,204.1 484.6,203.9 484.8,203.6 485.1,203.1 485.3,202.6 485.6,202.1 485.8,201.5 486.1,201.2 486.3,200.8 486.6,200.5 486.8,200.7 487.1,201.1 487.3,201.5 487.6,202.0 487.8,202.4 488.1,202.9 488.3,203.4 488.6,203.8 488.8,204.0 489.1,203.9 489.3,203.8 489.6,203.7 489.8,203.6 490.1,203.8 490.3,204.0 490.6,204.2 490.8,204.4 491.1,204.3 491.3,204.3 491.6,204.3 491.8,202.2 492.1,200.7 492.3,199.2 492.6,198.2 492.8,199.3 493.1,197.6 493.3,196.0 493.6,193.0 493.8,184.2 494.1,178.1 494.3,177.7 494.6,177.4 494.8,177.0 495.1,176.8 495.3,177.1 495.6,177.5 495.8,177.8 496.1,186.3 496.3,195.7 496.6,197.4 496.8,199.1 497.1,198.1 497.3,197.7 497.6,199.9 497.8,202.0 498.1,203.2 498.3,203.3 498.6,203.4 498.8,203.5 499.1,203.5 499.3,203.4 499.6,203.3 499.8,203.2 500.1,203.5 500.3,203.8 500.6,204.1 500.8,204.4 501.1,204.5 501.3,204.5 501.6,204.4 501.8,204.4 502.1,204.4 502.3,204.5 502.6,204.5 502.8,201.1 503.1,183.8 503.3,178.1 503.6,177.3 503.8,176.6 504.1,176.2 504.3,176.2 504.6,176.5 504.8,176.7 505.1,176.9 505.3,177.0 505.6,177.2 505.8,177.4 506.1,179.2 506.3,186.5 506.6,193.8 506.8,199.7 507.1,199.3 507.3,198.8 507.6,198.4 507.8,198.0 508.1,198.1 508.3,198.1 508.6,198.1 508.8,198.3 509.1,198.5 509.3,198.7 509.6,198.8 509.8,199.0 510.1,199.7 510.3,201.1 510.6,202.6 510.8,203.7 511.1,203.9 511.3,204.0 511.6,204.2 511.8,204.4 512.0,204.4 512.3,204.4 512.5,204.4 512.8,204.4 513.0,204.6 513.3,204.8 513.5,205.0 513.8,205.2 514.0,205.3 514.3,205.3 514.5,205.3 514.8,205.3 515.0,205.3 515.3,205.4 515.5,205.4 515.8,205.5 516.0,205.4 516.3,205.3 516.5,205.2 516.8,205.1 517.0,205.1 517.3,205.1 517.5,205.0 517.8,205.0 518.0,195.9 518.3,182.9 518.5,178.7 518.8,178.2 519.0,177.8 519.3,177.3 519.5,177.1 519.8,177.4 520.0,177.7 520.3,178.1 520.5,178.5 520.8,187.0 521.0,197.8 521.3,198.7 521.5,199.6 521.8,200.6 522.0,199.4 522.3,198.1 522.5,196.9 522.8,195.7 523.0,196.8 523.3,198.1 523.5,199.4 523.8,200.7 524.0,201.2 524.3,201.6 524.5,202.5 524.8,204.9 525.0,206.1 525.3,205.1 525.5,204.2 525.8,203.2 526.0,204.1 526.3,204.9 526.5,205.8 526.8,206.6 527.0,205.5 527.3,203.1 527.5,195.5 527.8,188.0 528.0,181.4 528.3,179.1 528.5,178.6 528.8,178.2 529.0,177.8 529.3,177.4 529.5,177.2 529.8,177.6 530.0,178.0 530.3,178.4 530.5,178.8 530.8,179.3 531.0,188.2 531.3,198.3 531.5,198.6 531.8,198.9 532.0,199.8 532.3,200.7 532.5,201.7 532.8,202.6 533.0,200.1 533.3,196.6 533.5,193.6 533.8,193.0 534.0,191.6 534.3,190.2 534.5,188.8 534.8,187.6 535.0,188.3 535.3,188.9 535.5,189.5 535.8,190.1 536.0,191.8 536.3,194.7 536.5,197.6 536.8,200.5 537.0,202.6 537.3,203.3 537.5,204.0 537.8,204.8 538.0,205.9 538.3,207.0 538.5,207.9 538.8,208.1 539.0,207.3 539.3,206.6 539.5,205.8 539.8,204.1 540.0,199.1 540.3,194.1 540.5,192.4 540.8,192.2 541.0,191.0 541.3,189.8 541.5,188.6 541.8,187.9 542.0,188.0 542.3,188.0 542.5,188.1 542.8,188.1 543.0,188.7 543.3,189.3 543.5,189.5 543.8,189.7 544.0,190.1 544.3,190.1 544.5,189.9 544.8,189.7 545.0,188.6 545.3,187.5 545.5,186.5 545.8,185.6 546.0,186.7 546.3,188.1 546.5,189.5 546.8,190.9 547.0,190.4 547.3,190.1 547.5,191.0 547.8,191.9 548.0,193.4 548.3,194.6 548.5,194.5 548.8,194.5 549.0,194.3 549.3,194.0 549.5,193.8 549.8,192.1 550.0,183.3 550.3,175.9 550.5,174.4 550.8,172.9 551.0,172.4 551.3,172.1 551.5,172.6 551.8,173.0 552.0,173.4 552.3,174.7 552.5,180.3 552.8,186.0 553.0,189.2 553.3,190.7 553.5,192.2 553.8,193.7 554.0,193.6 554.3,193.5 554.5,193.4 554.8,193.4 555.0,193.2 555.3,193.0 555.5,192.7 555.8,192.5 556.0,192.5 556.3,191.3 556.5,190.2 556.8,189.0 557.0,188.1 557.3,188.1 557.5,188.0 557.8,188.0 558.0,186.5 558.3,185.2 558.5,184.5 558.8,183.8 559.0,185.5 559.3,187.2 559.5,188.6 559.8,188.4 560.0,185.7 560.3,183.0 560.5,181.0 560.8,179.3 561.0,178.9 561.3,178.4 561.5,178.0 561.8,178.3 562.0,179.4 562.3,180.5 562.5,181.6 562.8,187.1 563.0,194.8 563.3,201.1 563.5,201.5 563.8,202.0 564.0,200.7 564.3,199.5 564.5,198.3 564.8,197.2 565.0,198.0 565.3,198.8 565.5,199.6 565.8,200.4 566.0,200.9 566.3,201.1 566.5,200.5 566.8,199.9 567.0,198.3 567.3,196.8 567.5,195.8 567.8,194.8 568.0,194.4 568.3,194.2 568.5,194.6 568.8,195.0 569.0,195.6 569.3,196.3 569.5,197.0 569.8,197.8 570.0,198.4 570.3,197.5 570.5,196.6 570.8,195.7 571.0,193.7 571.3,192.4 571.5,191.1 571.8,189.9 572.0,189.7 572.3,190.0 572.5,190.4 572.8,190.7 573.0,191.9 573.3,193.3 573.5,195.4 573.8,197.4 574.0,197.8 574.3,197.2 574.5,196.1 574.8,194.9 575.0,194.8 575.3,194.6 575.5,194.5 575.8,194.3 576.0,194.3 576.3,194.8 576.5,195.2 576.8,195.7 577.0,196.6 577.3,197.5 577.5,198.4 577.8,199.2 578.0,198.8 578.3,198.5 578.5,198.1 578.8,197.7 579.0,198.2 579.3,198.5 579.5,198.7 579.8,198.9 580.0,198.1 580.3,197.3 580.5,196.4 580.8,195.6 581.0,195.6 581.3,195.8 581.5,196.1 581.8,196.4 582.0,196.9 582.3,197.4 582.5,197.8 582.8,198.3 583.0,198.6 583.3,198.6 583.5,198.7 583.8,198.7 584.0,198.4 584.3,198.1 584.5,197.8 584.8,197.6 585.0,197.5 585.3,197.4 585.5,197.3 585.8,197.2 586.0,196.5 586.3,195.7 586.5,194.8 586.8,193.8 587.0,193.9 587.3,194.0 587.5,194.3 587.8,194.5 588.0,194.2 588.3,193.9 588.5,193.7 588.8,193.9 589.0,194.3 589.3,194.6 589.5,195.0 589.8,195.3 590.0,195.1 590.3,194.9 590.5,194.6 590.8,194.4 591.0,195.9 591.3,196.7 591.5,197.5 591.8,198.2 592.0,196.5 592.3,194.8 592.5,193.5 592.8,192.1 593.0,193.2 593.3,194.5 593.5,196.5 593.8,198.4 594.0,199.0 594.3,199.6 594.5,200.1 594.8,200.7 595.0,199.8 595.3,198.8 595.5,197.0 595.8,194.9 596.0,195.1 596.3,195.4 596.5,195.6 596.8,195.9 597.0,195.8 597.3,195.9 597.5,196.2 597.8,196.5 598.0,196.5 598.3,196.4 598.5,196.3 598.8,196.2 599.0,194.4 599.3,192.7 599.5,190.9 599.8,189.3 600.0,190.0 600.3,190.7 600.5,191.3 600.8,192.3 601.0,193.7 601.3,195.1 601.5,196.5 601.8,196.9 602.0,197.9 602.3,198.9 602.5,199.9 602.8,200.9 603.0,200.2 603.3,199.5 603.5,198.8 603.8,198.1 604.0,198.7 604.3,199.2 604.5,199.7 604.8,200.2 605.0,200.0 605.3,199.8 605.5,199.5 605.8,199.3 606.0,199.8 606.3,200.3 606.5,200.8 606.8,201.3 607.0,201.9 607.3,202.4 607.5,202.9 607.8,203.5 608.0,202.8 608.3,202.1 608.5,201.2 608.8,199.3 609.0,198.3 609.3,197.2 609.5,196.2 609.8,183.6 610.0,166.1 610.3,160.4 610.5,159.7 610.8,159.1 611.0,158.5 611.3,158.2 611.5,158.6 611.8,159.1 612.0,159.5 612.3,159.9 612.5,163.1 612.8,177.3 613.0,191.8 613.3,197.3 613.5,199.0 613.8,200.7 614.0,202.4 614.3,203.1 614.5,203.5 614.8,203.8 615.0,203.4 615.3,203.0 615.5,202.6 615.8,202.2 616.0,201.9 616.3,201.7 616.5,201.5 616.8,201.4 617.0,201.5 617.3,201.7 617.5,201.9 617.8,202.0 617.9,209.5 616.6,208.1 615.4,206.7 614.1,207.0 613.1,206.9 612.0,205.0 611.0,205.8 609.8,205.8 608.5,207.4 607.2,209.5 606.0,208.6 604.8,208.2 603.5,206.4 602.2,205.8 601.0,207.0 600.0,206.7 599.0,206.7 598.0,206.4 597.0,205.9 596.0,207.6 595.0,206.0 594.0,207.0 593.0,207.6 592.0,206.3 591.0,207.6 589.8,206.9 588.5,207.1 587.2,208.9 586.0,207.3 584.8,206.4 583.5,205.5 582.2,205.0 581.0,207.0 579.8,206.3 578.5,207.9 577.2,208.9 576.0,208.0 574.8,206.8 573.5,207.6 572.2,205.3 571.0,205.8 569.8,204.7 568.5,205.6 567.2,207.0 566.2,205.9 565.2,207.0 564.1,207.6 562.9,202.0 561.0,208.2 559.8,208.4 558.5,209.5 557.2,206.9 556.0,207.7 554.8,206.4 553.7,206.7 552.7,206.0 551.6,207.6 549.8,209.5 548.5,207.9 547.2,207.9 546.0,207.0 545.4,209.2 544.3,207.9 543.3,208.7 542.2,208.0 541.0,206.9 539.8,207.1 538.5,206.1 537.2,204.7 536.0,204.6 534.8,206.1 533.8,204.8 532.8,204.2 531.8,206.0 530.8,205.7 529.8,205.5 528.8,205.6 527.8,205.0 526.8,204.3 525.8,206.4 524.8,206.1 523.5,207.3 522.2,209.2 521.0,208.0 519.8,206.8 517.9,209.2 516.8,207.2 515.7,207.0 514.6,207.3 513.5,206.1 512.5,205.2 511.4,205.0 510.4,205.6 509.3,206.3 508.3,204.7 507.2,206.1 506.0,205.3 504.8,205.7 503.5,207.4 502.5,205.8 501.5,206.7 500.5,205.6 499.5,205.8 498.5,206.1 497.5,205.0 496.5,206.2 495.5,204.6 494.5,205.8 493.5,206.1 491.6,209.2 490.6,208.3 489.5,207.0 488.5,206.1 487.5,205.9 486.4,205.9 485.4,205.6 484.3,205.3 483.3,205.8 482.2,206.8 481.2,206.4 480.2,205.8 479.1,204.8 478.1,204.7 477.0,205.0 476.0,206.1 476.0,208.1 475.0,208.3 473.9,207.9 472.9,207.9 471.8,206.2 470.8,206.5 469.8,206.9 468.5,205.8 467.2,206.5 466.0,208.8 465.0,207.1 464.0,207.9 463.0,206.3 462.0,205.6 461.0,206.9 459.8,207.0 458.5,206.3 457.2,207.5 456.0,207.0 454.8,207.7 453.5,209.4 452.5,208.3 451.5,208.0 450.5,207.5 449.5,206.7 448.5,206.2 447.2,206.6 446.0,205.7 444.8,207.5 443.8,207.4 442.8,206.0 441.8,205.5 440.8,204.8 439.8,205.6 438.5,204.7 437.2,205.9 436.0,205.6 434.8,206.8 433.5,206.5 432.2,208.1 431.2,206.9 430.2,206.6 429.1,208.7 428.1,208.1 427.0,208.9 426.0,208.8 425.0,208.2 424.0,206.2 423.0,206.4 422.0,206.1 421.0,206.9 420.0,206.8 418.9,205.9 417.9,206.7 416.8,207.6 415.8,206.2 414.8,207.5 413.7,206.6 412.7,207.9 411.6,207.7 410.6,206.7 409.5,208.2 408.5,208.1 407.5,206.3 406.5,206.2 405.5,206.0 404.5,207.5 403.5,207.5 402.2,208.1 401.0,207.9 399.8,209.4 398.5,207.2 397.2,208.7 396.0,208.1 396.0,207.5 395.0,206.5 394.0,206.1 393.0,207.7 392.0,206.5 391.0,207.5 390.0,206.6 389.0,205.6 388.0,206.3 387.0,207.0 386.0,206.9 385.0,207.0 384.0,206.1 383.0,205.9 382.0,207.7 381.0,207.5 380.0,206.0 379.0,207.8 378.0,206.5 377.0,206.3 376.0,207.5 375.0,205.6 373.9,205.9 372.9,206.1 371.8,206.1 370.8,206.0 369.8,206.9 368.7,206.3 367.7,204.7 366.6,206.1 365.6,206.3 364.5,204.4 363.5,205.6 362.5,204.7 361.5,206.1 360.5,206.4 359.5,205.9 358.5,206.2 357.5,206.6 356.5,206.9 355.5,206.1 354.5,205.6 353.5,207.5 352.2,206.0 351.0,206.4 349.8,208.1 348.8,208.1 347.8,206.0 346.8,206.1 345.8,205.1 344.8,206.2 343.8,206.9 342.8,206.7 341.8,206.5 340.8,206.4 339.8,208.1 338.8,206.5 337.8,206.9 336.8,207.7 335.8,206.0 334.8,206.9 333.7,206.9 332.7,205.8 331.6,205.9 330.6,207.3 329.5,206.3 328.5,207.5 327.5,207.7 326.5,205.9 325.5,206.4 324.5,206.8 323.5,206.9 322.2,207.8 321.0,208.8 320.0,207.1 319.0,208.0 318.0,207.1 317.0,206.7 316.0,207.5 316.0,207.6 315.0,205.9 314.0,206.3 313.0,207.9 312.0,207.3 311.0,207.6 310.0,206.1 309.0,206.2 308.0,206.6 307.0,205.9 306.0,206.4 305.0,204.9 304.0,205.8 303.0,206.9 302.0,207.7 301.0,207.6 299.8,205.7 298.5,206.4 297.5,205.2 296.5,205.9 295.5,206.9 294.5,206.5 293.5,207.0 292.5,207.6 291.5,206.7 290.5,206.6 289.5,206.2 288.5,208.2 287.5,207.7 286.4,206.9 285.4,207.2 284.3,207.6 283.3,207.4 282.2,208.0 281.0,206.0 279.8,205.8 278.5,207.0 277.2,207.2 276.0,207.6 274.8,208.5 273.5,206.8 272.2,206.0 271.0,207.0 270.0,205.9 268.9,206.6 267.9,207.2 266.8,205.7 265.8,206.9 264.8,207.0 263.7,205.2 262.7,206.2 261.6,205.9 260.6,206.5 259.5,206.1 258.5,206.4 257.2,206.4 256.0,207.1 254.8,207.0 253.7,206.9 252.7,206.7 251.6,206.0 250.6,206.1 249.5,206.6 248.5,208.0 247.5,208.1 246.5,207.7 245.5,207.4 244.5,207.4 243.5,207.0 242.5,206.4 241.5,205.8 240.5,207.4 239.5,207.4 238.5,208.5 237.2,208.2 236.0,207.6 236.0,208.5 234.9,208.1 233.9,206.5 232.8,206.4 231.7,208.1 230.6,207.9 229.6,208.0 228.5,207.6 227.5,207.0 226.5,207.1 225.5,206.9 224.5,207.1 223.5,208.5 222.4,207.1 221.3,208.4 220.2,207.8 219.1,207.4 218.0,206.4 216.9,208.2 215.8,206.5 214.8,207.6 213.8,206.1 212.8,206.8 211.8,207.0 210.8,207.5 209.8,208.2 208.7,207.2 207.7,206.9 206.6,207.5 205.6,207.6 204.5,206.7 203.5,207.0 202.5,205.6 201.5,205.5 200.5,205.0 199.5,205.5 198.5,206.4 197.5,205.1 196.5,205.6 195.5,205.9 194.5,206.9 193.5,208.0 192.4,208.3 191.4,208.1 190.3,206.5 189.2,207.1 188.1,207.9 187.1,206.3 186.0,207.6 185.0,206.2 184.0,206.2 183.0,206.7 182.0,207.1 181.0,207.6 180.0,206.5 179.0,207.3 178.0,206.4 177.0,208.0 176.0,207.6 174.8,207.5 173.5,206.5 172.2,207.6 171.0,206.9 169.8,207.4 168.5,208.5 167.5,207.0 166.5,208.7 165.5,206.8 164.5,207.3 163.5,208.5 162.2,207.4 161.0,206.9 159.8,206.4 158.5,205.8 157.2,206.6 156.0,207.0 156.0,207.0 155.0,205.4 154.0,207.0 153.0,206.8 152.0,207.8 151.0,207.6 149.8,208.1 148.5,208.2 147.5,207.7 146.5,208.0 145.5,208.0 144.5,208.1 143.5,207.6 142.2,206.0 141.0,206.4 139.8,205.8 138.5,208.0 137.2,206.5 136.0,206.4 134.8,205.6 133.5,206.0 132.2,207.6 131.0,208.3 129.8,208.5 128.5,207.0 127.2,208.0 126.0,207.6 124.8,205.4 123.5,206.4 122.2,205.1 121.0,206.0 119.8,207.6 118.5,206.6 117.2,206.2 116.0,207.0 114.8,206.2 113.5,206.4 112.5,206.9 111.4,205.6 110.4,205.7 109.3,205.6 108.3,207.1 107.2,207.0 106.0,207.4 104.8,208.2 103.7,208.5 102.7,206.7 101.6,208.3 100.6,208.1 99.5,206.5 98.5,208.2 97.2,207.9 96.0,206.3 94.8,207.0 93.5,206.3 92.2,207.6 91.0,206.6 89.8,208.5 88.5,207.6 87.2,205.9 86.0,206.4 84.8,206.0 83.5,206.5 82.2,207.6 81.0,206.3 79.8,208.5 77.8,208.5" fill="#1f77b4" stroke="#1f77b4" stroke-width="0.4" stroke-linejoin="round"/>
</g>
<line class="s" x1="77.5" y1="210.5" x2="77.5" y2="215.7"/>
<text class="k" x="74.03" y="229.90" textLength="6.95" lengthAdjust="spacingAndGlyphs">0</text>
<line class="s" x1="167.5" y1="210.5" x2="167.5" y2="215.7"/>
<text class="k" x="164.03" y="229.90" textLength="6.95" lengthAdjust="spacingAndGlyphs">4</text>
<line class="s" x1="257.5" y1="210.5" x2="257.5" y2="215.7"/>
<text class="k" x="254.03" y="229.90" textLength="6.95" lengthAdjust="spacingAndGlyphs">8</text>
<line class="s" x1="348.5" y1="210.5" x2="348.5" y2="215.7"/>
<text class="k" x="340.15" y="229.90" textLength="13.90" lengthAdjust="spacingAndGlyphs">12</text>
<line class="s" x1="438.5" y1="210.5" x2="438.5" y2="215.7"/>
<text class="k" x="430.15" y="229.90" textLength="13.90" lengthAdjust="spacingAndGlyphs">16</text>
<line class="s" x1="528.5" y1="210.5" x2="528.5" y2="215.7"/>
<text class="k" x="521.15" y="229.90" textLength="13.90" lengthAdjust="spacingAndGlyphs">20</text>
<line class="s" x1="618.5" y1="210.5" x2="618.5" y2="215.7"/>
<text class="k" x="611.15" y="229.90" textLength="13.90" lengthAdjust="spacingAndGlyphs">24</text>
<line class="s" x1="72.3" y1="154.5" x2="77.5" y2="154.5"/>
<text class="k" x="32.55" y="159.10" textLength="34.75" lengthAdjust="spacingAndGlyphs">12000</text>
<line class="s" x1="72.3" y1="173.5" x2="77.5" y2="173.5"/>
<text class="k" x="40.00" y="178.10" textLength="27.80" lengthAdjust="spacingAndGlyphs">8000</text>
<line class="s" x1="72.3" y1="192.5" x2="77.5" y2="192.5"/>
<text class="k" x="40.00" y="197.10" textLength="27.80" lengthAdjust="spacingAndGlyphs">4000</text>
<line class="s" x1="72.3" y1="210.5" x2="77.5" y2="210.5"/>
<text class="k" x="60.95" y="215.10" textLength="6.95" lengthAdjust="spacingAndGlyphs">0</text>
<rect class="s" x="77.5" y="152.5" width="541.0" height="58.0"/>
<line class="g" x1="167.5" y1="268.5" x2="167.5" y2="327.5"/>
<line class="g" x1="257.5" y1="268.5" x2="257.5" y2="327.5"/>
<line class="g" x1="348.5" y1="268.5" x2="348.5" y2="327.5"/>
<line class="g" x1="438.5" y1="268.5" x2="438.5" y2="327.5"/>
<line class="g" x1="528.5" y1="268.5" x2="528.5" y2="327.5"/>
<line class="g" x1="77.5" y1="280.5" x2="618.5" y2="280.5"/>
<line class="g" x1="77.5" y1="292.5" x2="618.5" y2="292.5"/>
<line class="g" x1="77.5" y1="303.5" x2="618.5" y2="303.5"/>
<line class="g" x1="77.5" y1="315.5" x2="618.5" y2="315.5"/>
<clipPath id="c2"><rect x="77.5" y="268.5" width="541.0" height="59.0"/></clipPath>
<g clip-path="url(#c2)">
<line x1="77.5" y1="313.2" x2="618.5" y2="313.2" stroke="#1f77b4" stroke-width="2.2"/>
<rect x="312.9" y="313.6" width="6.2" height="1.5" fill="#1f77b4"/>
<rect x="325.4" y="313.6" width="3.1" height="1.5" fill="#1f77b4"/>
<rect x="329.8" y="313.6" width="3.1" height="1.5" fill="#1f77b4"/>
<rect x="333.5" y="313.6" width="5.0" height="1.5" fill="#1f77b4"/>
<rect x="339.1" y="313.6" width="4.4" height="1.5" fill="#1f77b4"/>
<rect x="344.1" y="313.6" width="3.1" height="1.5" fill="#1f77b4"/>
<rect x="347.9" y="313.6" width="4.4" height="1.5" fill="#1f77b4"/>
</g>
<line class="s" x1="77.5" y1="327.5" x2="77.5" y2="332.7"/>
<text class="k" x="74.03" y="345.90" textLength="6.95" lengthAdjust="spacingAndGlyphs">0</text>
<line class="s" x1="167.5" y1="327.5" x2="167.5" y2="332.7"/>
<text class="k" x="164.03" y="345.90" textLength="6.95" lengthAdjust="spacingAndGlyphs">4</text>
<line class="s" x1="257.5" y1="327.5" x2="257.5" y2="332.7"/>
<text class="k" x="254.03" y="345.90" textLength="6.95" lengthAdjust="spacingAndGlyphs">8</text>
<line class="s" x1="348.5" y1="327.5" x2="348.5" y2="332.7"/>
<text class="k" x="340.15" y="345.90" textLength="13.90" lengthAdjust="spacingAndGlyphs">12</text>
<line class="s" x1="438.5" y1="327.5" x2="438.5" y2="332.7"/>
<text class="k" x="430.15" y="345.90" textLength="13.90" lengthAdjust="spacingAndGlyphs">16</text>
<line class="s" x1="528.5" y1="327.5" x2="528.5" y2="332.7"/>
<text class="k" x="521.15" y="345.90" textLength="13.90" lengthAdjust="spacingAndGlyphs">20</text>
<line class="s" x1="618.5" y1="327.5" x2="618.5" y2="332.7"/>
<text class="k" x="611.15" y="345.90" textLength="13.90" lengthAdjust="spacingAndGlyphs">24</text>
<line class="s" x1="72.3" y1="268.5" x2="77.5" y2="268.5"/>
<text class="k" x="54.10" y="273.10" textLength="13.90" lengthAdjust="spacingAndGlyphs">80</text>
<line class="s" x1="72.3" y1="280.5" x2="77.5" y2="280.5"/>
<text class="k" x="54.10" y="285.10" textLength="13.90" lengthAdjust="spacingAndGlyphs">60</text>
<line class="s" x1="72.3" y1="292.5" x2="77.5" y2="292.5"/>
<text class="k" x="54.10" y="297.10" textLength="13.90" lengthAdjust="spacingAndGlyphs">40</text>
<line class="s" x1="72.3" y1="303.5" x2="77.5" y2="303.5"/>
<text class="k" x="54.10" y="308.10" textLength="13.90" lengthAdjust="spacingAndGlyphs">20</text>
<line class="s" x1="72.3" y1="315.5" x2="77.5" y2="315.5"/>
<text class="k" x="61.05" y="320.10" textLength="6.95" lengthAdjust="spacingAndGlyphs">0</text>
<line class="s" x1="72.3" y1="327.5" x2="77.5" y2="327.5"/>
<text class="k" x="54.10" y="332.10" textLength="13.90" lengthAdjust="spacingAndGlyphs">20</text>
<line x1="43.40" y1="328.40" x2="52.90" y2="328.40" stroke="#000" stroke-width="0.75"/>
<rect class="s" x="77.5" y="268.5" width="541.0" height="59.0"/>
<line class="g" x1="167.5" y1="385.5" x2="167.5" y2="443.5"/>
<line class="g" x1="257.5" y1="385.5" x2="257.5" y2="443.5"/>
<line class="g" x1="348.5" y1="385.5" x2="348.5" y2="443.5"/>
<line class="g" x1="438.5" y1="385.5" x2="438.5" y2="443.5"/>
<line class="g" x1="528.5" y1="385.5" x2="528.5" y2="443.5"/>
<line class="g" x1="77.5" y1="404.5" x2="618.5" y2="404.5"/>
<line class="g" x1="77.5" y1="423.5" x2="618.5" y2="423.5"/>
<clipPath id="c3"><rect x="77.5" y="385.5" width="541.0" height="58.0"/></clipPath>
<g clip-path="url(#c3)">
<polygon points="77.50,398.60 77.85,398.60 77.85,398.60 80.25,398.60 80.25,393.73 82.35,393.73 82.35,393.73 85.65,393.73 85.65,393.73 87.95,393.73 87.95,398.60 90.35,398.60 90.35,398.60 93.85,398.60 93.85,398.60 99.75,398.60 99.75,398.60 109.05,398.60 109.05,398.60 114.05,398.60 114.05,393.73 115.45,393.73 115.45,393.73 117.55,393.73 117.55,398.60 118.95,398.60 118.95,398.60 121.65,398.60 121.65,398.60 124.05,398.60 124.05,398.60 126.05,398.60 126.05,403.46 128.75,403.46 128.75,403.46 132.65,403.46 132.65,403.46 134.95,403.46 134.95,398.60 137.05,398.60 137.05,398.60 138.05,398.60 138.05,393.73 140.15,393.73 140.15,393.73 140.45,393.73 140.45,393.73 142.55,393.73 142.55,393.73 145.95,393.73 145.95,393.73 152.35,393.73 152.35,384.01 154.45,384.01 154.45,384.01 156.65,384.01 156.65,384.01 158.95,384.01 158.95,384.01 160.75,384.01 160.75,384.01 163.05,384.01 163.05,388.87 167.55,388.87 167.55,388.87 169.85,388.87 169.85,393.73 174.45,393.73 174.45,393.73 176.75,393.73 176.75,393.73 181.05,393.73 181.05,393.73 192.25,393.73 192.25,388.87 194.35,388.87 194.35,388.87 200.25,388.87 200.25,388.87 202.75,388.87 202.75,388.87 203.95,388.87 203.95,384.01 206.05,384.01 206.05,384.01 208.25,384.01 208.25,384.01 210.25,384.01 210.25,388.87 213.05,388.87 213.05,388.87 215.15,388.87 215.15,393.73 218.95,393.73 218.95,388.87 221.05,388.87 221.05,393.73 221.95,393.73 221.95,388.87 224.05,388.87 224.05,393.73 225.15,393.73 225.15,393.73 228.45,393.73 228.45,393.73 233.95,393.73 233.95,393.73 236.95,393.73 236.95,393.73 241.05,393.73 241.05,393.73 244.45,393.73 244.45,398.60 250.85,398.60 250.85,398.60 253.25,398.60 253.25,393.73 254.95,393.73 254.95,393.73 257.45,393.73 257.45,393.73 260.75,393.73 260.75,398.60 264.35,398.60 264.35,393.73 270.45,393.73 270.45,384.01 270.55,384.01 270.55,384.01 272.45,384.01 272.45,384.01 285.45,384.01 285.45,384.01 287.05,384.01 287.05,384.01 289.15,384.01 289.15,388.87 293.05,388.87 293.05,388.87 294.95,388.87 294.95,388.87 297.75,388.87 297.75,388.87 300.45,388.87 300.45,388.87 304.25,388.87 304.25,393.73 313.65,393.73 313.65,388.87 315.75,388.87 315.75,393.73 322.45,393.73 322.45,398.60 328.85,398.60 328.85,398.60 330.55,398.60 330.55,393.73 330.95,393.73 330.95,393.73 332.55,393.73 332.55,393.73 337.75,393.73 337.75,393.73 339.75,393.73 339.75,393.73 342.65,393.73 342.65,393.73 347.25,393.73 347.25,393.73 349.05,393.73 349.05,393.73 351.05,393.73 351.05,398.60 358.25,398.60 358.25,393.73 358.55,393.73 358.55,393.73 359.95,393.73 359.95,388.87 363.05,388.87 363.05,388.87 363.25,388.87 363.25,393.73 365.15,393.73 365.15,398.60 369.05,398.60 369.05,393.73 371.15,393.73 371.15,398.60 376.75,398.60 376.75,398.60 394.95,398.60 394.95,398.60 397.35,398.60 397.35,398.60 399.15,398.60 399.15,393.73 401.55,393.73 401.55,398.60 404.75,398.60 404.75,398.60 407.65,398.60 407.65,398.60 409.65,398.60 409.65,398.60 411.75,398.60 411.75,403.46 412.35,403.46 412.35,403.46 414.35,403.46 414.35,403.46 416.45,403.46 416.45,398.60 418.55,398.60 418.55,398.60 424.75,398.60 424.75,398.60 431.45,398.60 431.45,393.73 431.85,393.73 431.85,393.73 433.55,393.73 433.55,393.73 436.45,393.73 436.45,393.73 437.65,393.73 437.65,393.73 438.55,393.73 438.55,398.60 439.65,398.60 439.65,398.60 441.65,398.60 441.65,398.60 447.35,398.60 447.35,403.46 448.65,403.46 448.65,403.46 452.05,403.46 452.05,408.32 462.25,408.32 462.25,403.46 464.25,403.46 464.25,403.46 467.45,403.46 467.45,398.60 474.25,398.60 474.25,393.73 474.55,393.73 474.55,393.73 476.25,393.73 476.25,393.73 483.45,393.73 483.45,393.73 485.55,393.73 485.55,398.60 487.85,398.60 487.85,398.60 489.75,398.60 489.75,398.60 492.75,398.60 492.75,398.60 495.05,398.60 495.05,398.60 496.35,398.60 496.35,398.60 503.45,398.60 503.45,398.60 505.75,398.60 505.75,393.73 512.25,393.73 512.25,393.73 512.35,393.73 512.35,398.60 515.55,398.60 515.55,398.60 518.05,398.60 518.05,398.60 519.75,398.60 519.75,398.60 523.65,398.60 523.65,398.60 528.75,398.60 528.75,388.87 531.15,388.87 531.15,398.60 533.35,398.60 533.35,398.60 536.25,398.60 536.25,398.60 538.55,398.60 538.55,398.60 546.35,398.60 546.35,393.73 549.75,393.73 549.75,398.60 555.25,398.60 555.25,393.73 558.25,393.73 558.25,393.73 559.55,393.73 559.55,393.73 563.85,393.73 563.85,398.60 575.05,398.60 575.05,403.46 588.85,403.46 588.85,398.60 592.05,398.60 592.05,393.73 594.15,393.73 594.15,393.73 595.75,393.73 595.75,393.73 600.05,393.73 600.05,398.60 607.55,398.60 607.55,398.60 608.85,398.60 608.85,398.60 611.05,398.60 611.05,398.60 614.95,398.60 614.95,398.60 618.50,398.60 618.50,405.54 614.95,405.54 614.95,400.68 611.05,400.68 611.05,405.54 608.85,405.54 608.85,400.68 607.55,400.68 607.55,405.54 600.05,405.54 600.05,405.54 595.75,405.54 595.75,400.68 594.15,400.68 594.15,405.54 592.05,405.54 592.05,405.54 588.85,405.54 588.85,405.54 575.05,405.54 575.05,405.54 563.85,405.54 563.85,405.54 559.55,405.54 559.55,395.81 558.25,395.81 558.25,405.54 555.25,405.54 555.25,405.54 549.75,405.54 549.75,405.54 546.35,405.54 546.35,405.54 538.55,405.54 538.55,400.68 536.25,400.68 536.25,405.54 533.35,405.54 533.35,400.68 531.15,400.68 531.15,405.54 528.75,405.54 528.75,405.54 523.65,405.54 523.65,410.40 519.75,410.40 519.75,405.54 518.05,405.54 518.05,415.27 515.55,415.27 515.55,405.54 512.35,405.54 512.35,405.54 512.25,405.54 512.25,400.68 505.75,400.68 505.75,400.68 503.45,400.68 503.45,405.54 496.35,405.54 496.35,400.68 495.05,400.68 495.05,405.54 492.75,405.54 492.75,415.27 489.75,415.27 489.75,405.54 487.85,405.54 487.85,400.68 485.55,400.68 485.55,400.68 483.45,400.68 483.45,395.81 476.25,395.81 476.25,400.68 474.55,400.68 474.55,405.54 474.25,405.54 474.25,405.54 467.45,405.54 467.45,405.54 464.25,405.54 464.25,410.40 462.25,410.40 462.25,410.40 452.05,410.40 452.05,410.40 448.65,410.40 448.65,405.54 447.35,405.54 447.35,405.54 441.65,405.54 441.65,400.68 439.65,400.68 439.65,405.54 438.55,405.54 438.55,405.54 437.65,405.54 437.65,400.68 436.45,400.68 436.45,395.81 433.55,395.81 433.55,400.68 431.85,400.68 431.85,405.54 431.45,405.54 431.45,405.54 424.75,405.54 424.75,400.68 418.55,400.68 418.55,405.54 416.45,405.54 416.45,405.54 414.35,405.54 414.35,415.27 412.35,415.27 412.35,405.54 411.75,405.54 411.75,410.40 409.65,410.40 409.65,400.68 407.65,400.68 407.65,405.54 404.75,405.54 404.75,400.68 401.55,400.68 401.55,405.54 399.15,405.54 399.15,400.68 397.35,400.68 397.35,405.54 394.95,405.54 394.95,400.68 376.75,400.68 376.75,405.54 371.15,405.54 371.15,405.54 369.05,405.54 369.05,405.54 365.15,405.54 365.15,405.54 363.25,405.54 363.25,405.54 363.05,405.54 363.05,400.68 359.95,400.68 359.95,400.68 358.55,400.68 358.55,405.54 358.25,405.54 358.25,405.54 351.05,405.54 351.05,405.54 349.05,405.54 349.05,395.81 347.25,395.81 347.25,400.68 342.65,400.68 342.65,405.54 339.75,405.54 339.75,400.68 337.75,400.68 337.75,395.81 332.55,395.81 332.55,400.68 330.95,400.68 330.95,405.54 330.55,405.54 330.55,405.54 328.85,405.54 328.85,400.68 322.45,400.68 322.45,400.68 315.75,400.68 315.75,400.68 313.65,400.68 313.65,400.68 304.25,400.68 304.25,400.68 300.45,400.68 300.45,390.95 297.75,390.95 297.75,395.81 294.95,395.81 294.95,390.95 293.05,390.95 293.05,395.81 289.15,395.81 289.15,400.68 287.05,400.68 287.05,395.81 285.45,395.81 285.45,390.95 272.45,390.95 272.45,395.81 270.55,395.81 270.55,400.68 270.45,400.68 270.45,400.68 264.35,400.68 264.35,400.68 260.75,400.68 260.75,400.68 257.45,400.68 257.45,405.54 254.95,405.54 254.95,400.68 253.25,400.68 253.25,400.68 250.85,400.68 250.85,405.54 244.45,405.54 244.45,405.54 241.05,405.54 241.05,400.68 236.95,400.68 236.95,405.54 233.95,405.54 233.95,395.81 228.45,395.81 228.45,400.68 225.15,400.68 225.15,395.81 224.05,395.81 224.05,400.68 221.95,400.68 221.95,400.68 221.05,400.68 221.05,400.68 218.95,400.68 218.95,400.68 215.15,400.68 215.15,400.68 213.05,400.68 213.05,395.81 210.25,395.81 210.25,400.68 208.25,400.68 208.25,386.09 206.05,386.09 206.05,390.95 203.95,390.95 203.95,390.95 202.75,390.95 202.75,395.81 200.25,395.81 200.25,390.95 194.35,390.95 194.35,395.81 192.25,395.81 192.25,395.81 181.05,395.81 181.05,400.68 176.75,400.68 176.75,405.54 174.45,405.54 174.45,400.68 169.85,400.68 169.85,400.68 167.55,400.68 167.55,395.81 163.05,395.81 163.05,395.81 160.75,395.81 160.75,390.95 158.95,390.95 158.95,395.81 156.65,395.81 156.65,390.95 154.45,390.95 154.45,405.54 152.35,405.54 152.35,405.54 145.95,405.54 145.95,395.81 142.55,395.81 142.55,410.40 140.45,410.40 140.45,395.81 140.15,395.81 140.15,400.68 138.05,400.68 138.05,400.68 137.05,400.68 137.05,405.54 134.95,405.54 134.95,405.54 132.65,405.54 132.65,410.40 128.75,410.40 128.75,405.54 126.05,405.54 126.05,410.40 124.05,410.40 124.05,400.68 121.65,400.68 121.65,405.54 118.95,405.54 118.95,410.40 117.55,410.40 117.55,410.40 115.45,410.40 115.45,405.54 114.05,405.54 114.05,405.54 109.05,405.54 109.05,400.68 99.75,400.68 99.75,405.54 93.85,405.54 93.85,410.40 90.35,410.40 90.35,405.54 87.95,405.54 87.95,405.54 85.65,405.54 85.65,400.68 82.35,400.68 82.35,405.54 80.25,405.54 80.25,405.54 77.85,405.54 77.85,400.68 77.50,400.68" fill="#1f77b4"/>
</g>
<line class="s" x1="77.5" y1="443.5" x2="77.5" y2="448.7"/>
<text class="k" x="74.03" y="461.90" textLength="6.95" lengthAdjust="spacingAndGlyphs">0</text>
<line class="s" x1="167.5" y1="443.5" x2="167.5" y2="448.7"/>
<text class="k" x="164.03" y="461.90" textLength="6.95" lengthAdjust="spacingAndGlyphs">4</text>
<line class="s" x1="257.5" y1="443.5" x2="257.5" y2="448.7"/>
<text class="k" x="254.03" y="461.90" textLength="6.95" lengthAdjust="spacingAndGlyphs">8</text>
<line class="s" x1="348.5" y1="443.5" x2="348.5" y2="448.7"/>
<text class="k" x="340.15" y="461.90" textLength="13.90" lengthAdjust="spacingAndGlyphs">12</text>
<line class="s" x1="438.5" y1="443.5" x2="438.5" y2="448.7"/>
<text class="k" x="430.15" y="461.90" textLength="13.90" lengthAdjust="spacingAndGlyphs">16</text>
<line class="s" x1="528.5" y1="443.5" x2="528.5" y2="448.7"/>
<text class="k" x="521.15" y="461.90" textLength="13.90" lengthAdjust="spacingAndGlyphs">20</text>
<line class="s" x1="618.5" y1="443.5" x2="618.5" y2="448.7"/>
<text class="k" x="611.15" y="461.90" textLength="13.90" lengthAdjust="spacingAndGlyphs">24</text>
<line class="s" x1="72.3" y1="385.5" x2="77.5" y2="385.5"/>
<text class="k" x="52.70" y="390.10" textLength="13.90" lengthAdjust="spacingAndGlyphs">12</text>
<line class="s" x1="72.3" y1="404.5" x2="77.5" y2="404.5"/>
<text class="k" x="61.15" y="409.10" textLength="6.95" lengthAdjust="spacingAndGlyphs">8</text>
<line class="s" x1="72.3" y1="423.5" x2="77.5" y2="423.5"/>
<text class="k" x="61.15" y="428.10" textLength="6.95" lengthAdjust="spacingAndGlyphs">4</text>
<line class="s" x1="72.3" y1="443.5" x2="77.5" y2="443.5"/>
<text class="k" x="61.15" y="448.10" textLength="6.95" lengthAdjust="spacingAndGlyphs">0</text>
<rect class="s" x="77.5" y="385.5" width="541.0" height="58.0"/>
<text class="t" x="93.30" y="27.70" textLength="45.00" lengthAdjust="spacingAndGlyphs">AgSite</text>
<text class="t" x="293.20" y="27.70" textLength="65.20" lengthAdjust="spacingAndGlyphs">Threshold</text>
<g style="font-size:15.4px"><text class="t" x="520.90" y="28.00" textLength="32.00" lengthAdjust="spacingAndGlyphs">2025</text>
<text class="t" x="561.20" y="28.00" textLength="15.80" lengthAdjust="spacingAndGlyphs">09</text>
<text class="t" x="584.90" y="28.00" textLength="16.40" lengthAdjust="spacingAndGlyphs">03</text>
</g><line x1="554.3" y1="32.1" x2="559.3" y2="15.8" stroke="#000" stroke-width="1.15"/>
<line x1="578.5" y1="32.1" x2="583.5" y2="15.8" stroke="#000" stroke-width="1.15"/>
<text class="t" x="306.90" y="143.80" textLength="53.50" lengthAdjust="spacingAndGlyphs">Triggers</text>
<text class="t" x="368.30" y="143.80" textLength="20.40" lengthAdjust="spacingAndGlyphs">sec</text>
<line x1="361.8" y1="147.9" x2="366.9" y2="131.6" stroke="#000" stroke-width="1.15"/>
<text class="t" x="306.00" y="258.90" textLength="85.20" lengthAdjust="spacingAndGlyphs">Temperature</text>
<text class="t" x="288.00" y="375.50" textLength="119.20" lengthAdjust="spacingAndGlyphs">Satellites Tracked</text>
<text class="l" transform="translate(28.20,65.50) rotate(-90)" x="-13.60" y="0" textLength="27.20" lengthAdjust="spacingAndGlyphs">dBm</text>
<text class="l" transform="translate(24.80,181.40) rotate(-90)" x="-17.20" y="0" textLength="34.40" lengthAdjust="spacingAndGlyphs">Count</text>
<text class="l" style="font-size:14.6px" transform="translate(34.90,294.25) rotate(-90)" x="-4.60" y="0" textLength="9.20" lengthAdjust="spacingAndGlyphs">C</text>
<ellipse cx="27.6" cy="302.2" rx="1.9" ry="1.9" fill="none" stroke="#000" stroke-width="0.8"/>
<text class="l" transform="translate(44.90,414.70) rotate(-90)" x="-22.70" y="0" textLength="45.40" lengthAdjust="spacingAndGlyphs">Number</text>
</svg></body></html>
